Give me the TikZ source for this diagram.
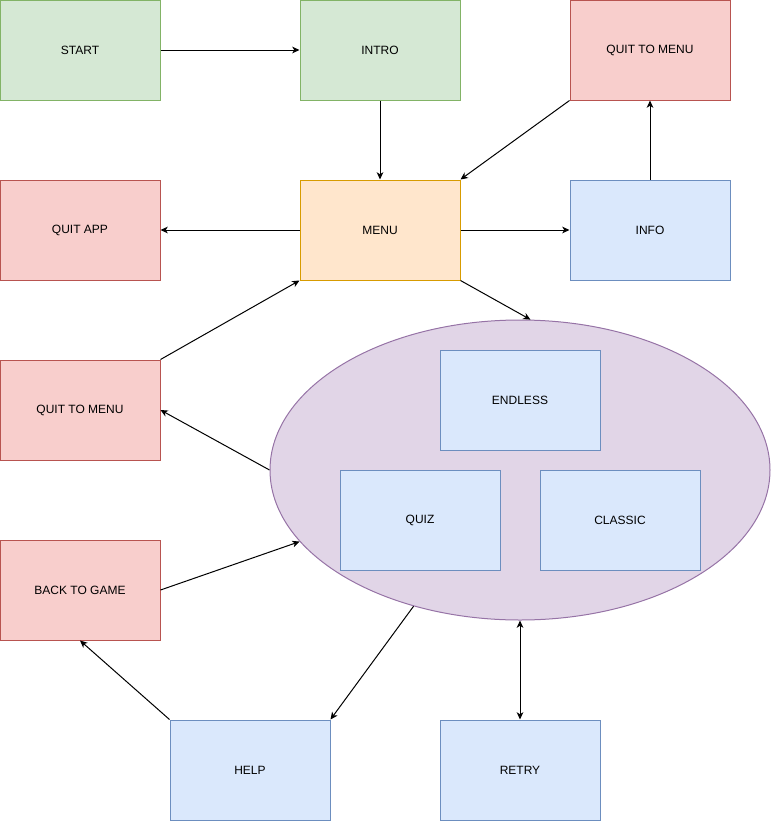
\documentclass[tikz,border=0pt]{standalone}
\usepackage{fontspec}
\setmainfont{Liberation Sans}
\usepackage{xcolor}
\usepackage{tikz}
\usetikzlibrary{positioning,arrows.meta,shapes.geometric}

\definecolor{greenfill}{HTML}{D5E8D4}
\definecolor{greenline}{HTML}{82B366}
\definecolor{redfill}{HTML}{F8CECC}
\definecolor{redline}{HTML}{B85450}
\definecolor{orangefill}{HTML}{FFE6CC}
\definecolor{orangeline}{HTML}{D79B00}
\definecolor{bluefill}{HTML}{DAE8FC}
\definecolor{blueline}{HTML}{6C8EBF}
\definecolor{purplefill}{HTML}{E1D5E7}
\definecolor{purpleline}{HTML}{9673A6}

\tikzset{
  box/.style={rectangle, draw, minimum width=120pt, minimum height=75pt,
    font=\fontsize{9}{11}\selectfont},
  greenbox/.style={box, fill=greenfill, draw=greenline},
  redbox/.style={box, fill=redfill, draw=redline},
  orangebox/.style={box, fill=orangefill, draw=orangeline},
  bluebox/.style={box, fill=bluefill, draw=blueline},
  modebox/.style={ellipse, draw=purpleline, fill=purplefill,
    minimum width=375pt, minimum height=225pt},
}

\begin{document}
\begin{tikzpicture}[->, >={Stealth[length=5.5pt, width=5pt, inset=1.6pt]},
    x=0.75pt, y=-0.75pt, line width=0.75pt]
			\useasboundingbox (0,0) rectangle (771,821);

			\node[greenbox] (start) at (80,50) {START};
			\node[greenbox] (intro) [right=104.25pt of start] {INTRO};
			\node[redbox] (quit1) [right=81.75pt of intro] {QUIT TO MENU};
			\node[orangebox] (menu) [below=59.25pt of intro] {MENU};
			\node[redbox] (quitapp) [left=104.25pt of menu] {QUIT APP};
			\node[bluebox] (info) [right=81.75pt of menu] {INFO};
			\node[redbox] (quit2) [below=59.25pt of quitapp] {QUIT TO MENU};
			\node[redbox] (back) [below=59.25pt of quit2] {BACK TO GAME};

			\node[modebox] (modes) at (520,470) {};
			\node[bluebox] (endless) at (520,400) {ENDLESS};
			\node[bluebox] (quiz) at (420,520) {QUIZ};
			\node[bluebox] (classic) at (620,520) {CLASSIC};

			\node[bluebox] (help) at (250,770) {HELP};
			\node[bluebox] (retry) at (520,770) {RETRY};

			\path (start) edge (intro);
			\path (intro) edge (menu);
			\path (quit1.south west) edge (menu.north east);
			\path (menu) edge (quitapp);
			\path (menu) edge (info);
			\path (info) edge (quit1);
			\path (menu.south east) edge (modes.86);
			\path (quit2.north east) edge (menu.south west);
			\path (modes.west) edge (quit2.east);
			\path (back.east) edge (modes.198);
			\path (modes.232) edge (help.north east);
			\path (help.north west) edge (back.south);
			\path (modes) edge [<->] (retry);
		\end{tikzpicture}
\end{document}
